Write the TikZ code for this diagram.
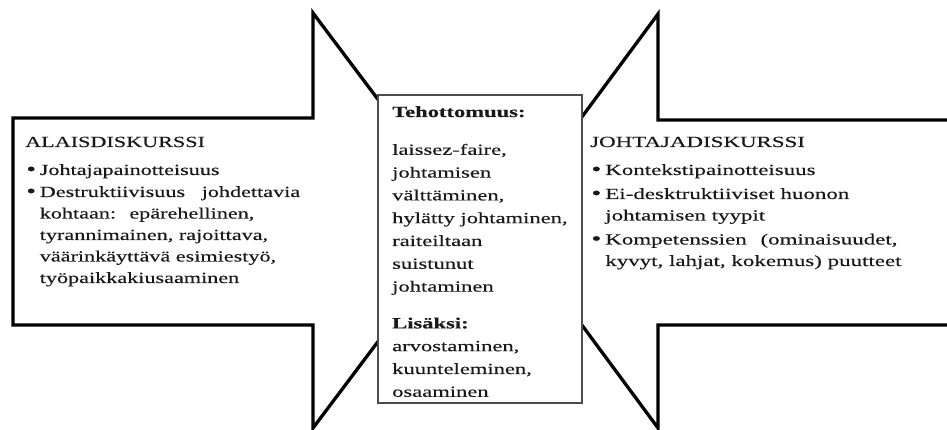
\documentclass[tikz,border=0pt]{standalone}
\usepackage{fontspec}
\setmainfont{Liberation Serif}[FakeBold=0.15, BoldFeatures={FakeBold=0.4}]
\usepackage{graphicx}
% wide setting of the text lines, with a per-block width factor
\newcommand{\sx}[2][1.48]{\scalebox{#1}[1]{#2}}
% bullet cell of a list row
\newcommand{\bul}{\makebox[10.2pt][l]{\hspace{0.8pt}\raisebox{-0.4pt}{\scalebox{1.25}{\textbullet}}}}
\begin{document}
\begin{tikzpicture}[x=1pt,y=-1pt,
  bigarrow/.style={draw=black, line width=3.3pt, fill=white, line join=miter},
  midbox/.style={rectangle, draw=black!70, line width=1.1pt, fill=white, inner sep=0pt},
  txt/.style={anchor=base west, inner sep=0pt, text=black!90,
    font=\fontsize{15.5}{21.5}\selectfont},
]
\useasboundingbox (0,0) rectangle (947,430);

% left arrow, pointing right
\path[bigarrow] (13,118) -- (313,118) -- (313,13) -- (469,220.5)
  -- (313,428) -- (313,325) -- (13,325) -- cycle;

% right arrow, pointing left (its body runs off the right edge)
\path[bigarrow] (952,120) -- (658,120) -- (658,14) -- (505,221)
  -- (658,428) -- (658,325) -- (952,325);

% middle box
\node[midbox, minimum width=204pt, minimum height=308pt] (mid) at (480,249) {};

% left arrow text
\node[txt] (alais) at (25,147) {\sx[1.43]{\begin{tabular}[t]{@{}l@{}l@{}}
\multicolumn{2}{@{}l@{}}{ALAISDISKURSSI}\\[6.5pt]
\bul & Johtajapainotteisuus\\[0.5pt]
\bul & Destruktiivisuus\hspace{0.75em}johdettavia\\
     & kohtaan:\hspace{0.6em}epärehellinen,\\
     & tyrannimainen, rajoittava,\\
     & väärinkäyttävä esimiestyö,\\
     & työpaikkakiusaaminen
\end{tabular}}};

% middle box text
\node[txt, font=\fontsize{15.5}{22.8}\selectfont] (teho) at (392,117) {\sx[1.455]{\begin{tabular}[t]{@{}l@{}}
\textbf{Tehottomuus:}\\[15pt]
laissez-faire,\\
johtamisen\\
välttäminen,\\
hylätty johtaminen,\\
raiteiltaan\\
suistunut\\
johtaminen\\[14pt]
\textbf{Lisäksi:}\\
arvostaminen,\\
kuunteleminen,\\
osaaminen
\end{tabular}}};

% right arrow text
\node[txt] (johta) at (590,147) {\sx{\begin{tabular}[t]{@{}l@{}l@{}}
\multicolumn{2}{@{}l@{}}{JOHTAJADISKURSSI}\\[6.5pt]
\bul & Kontekstipainotteisuus\\[2.5pt]
\bul & Ei-desktruktiiviset huonon\\
     & johtamisen tyypit\\[2.5pt]
\bul & Kompetenssien\hspace{0.6em}(ominaisuudet,\\
     & kyvyt, lahjat, kokemus) puutteet
\end{tabular}}};
\end{tikzpicture}
\end{document}
